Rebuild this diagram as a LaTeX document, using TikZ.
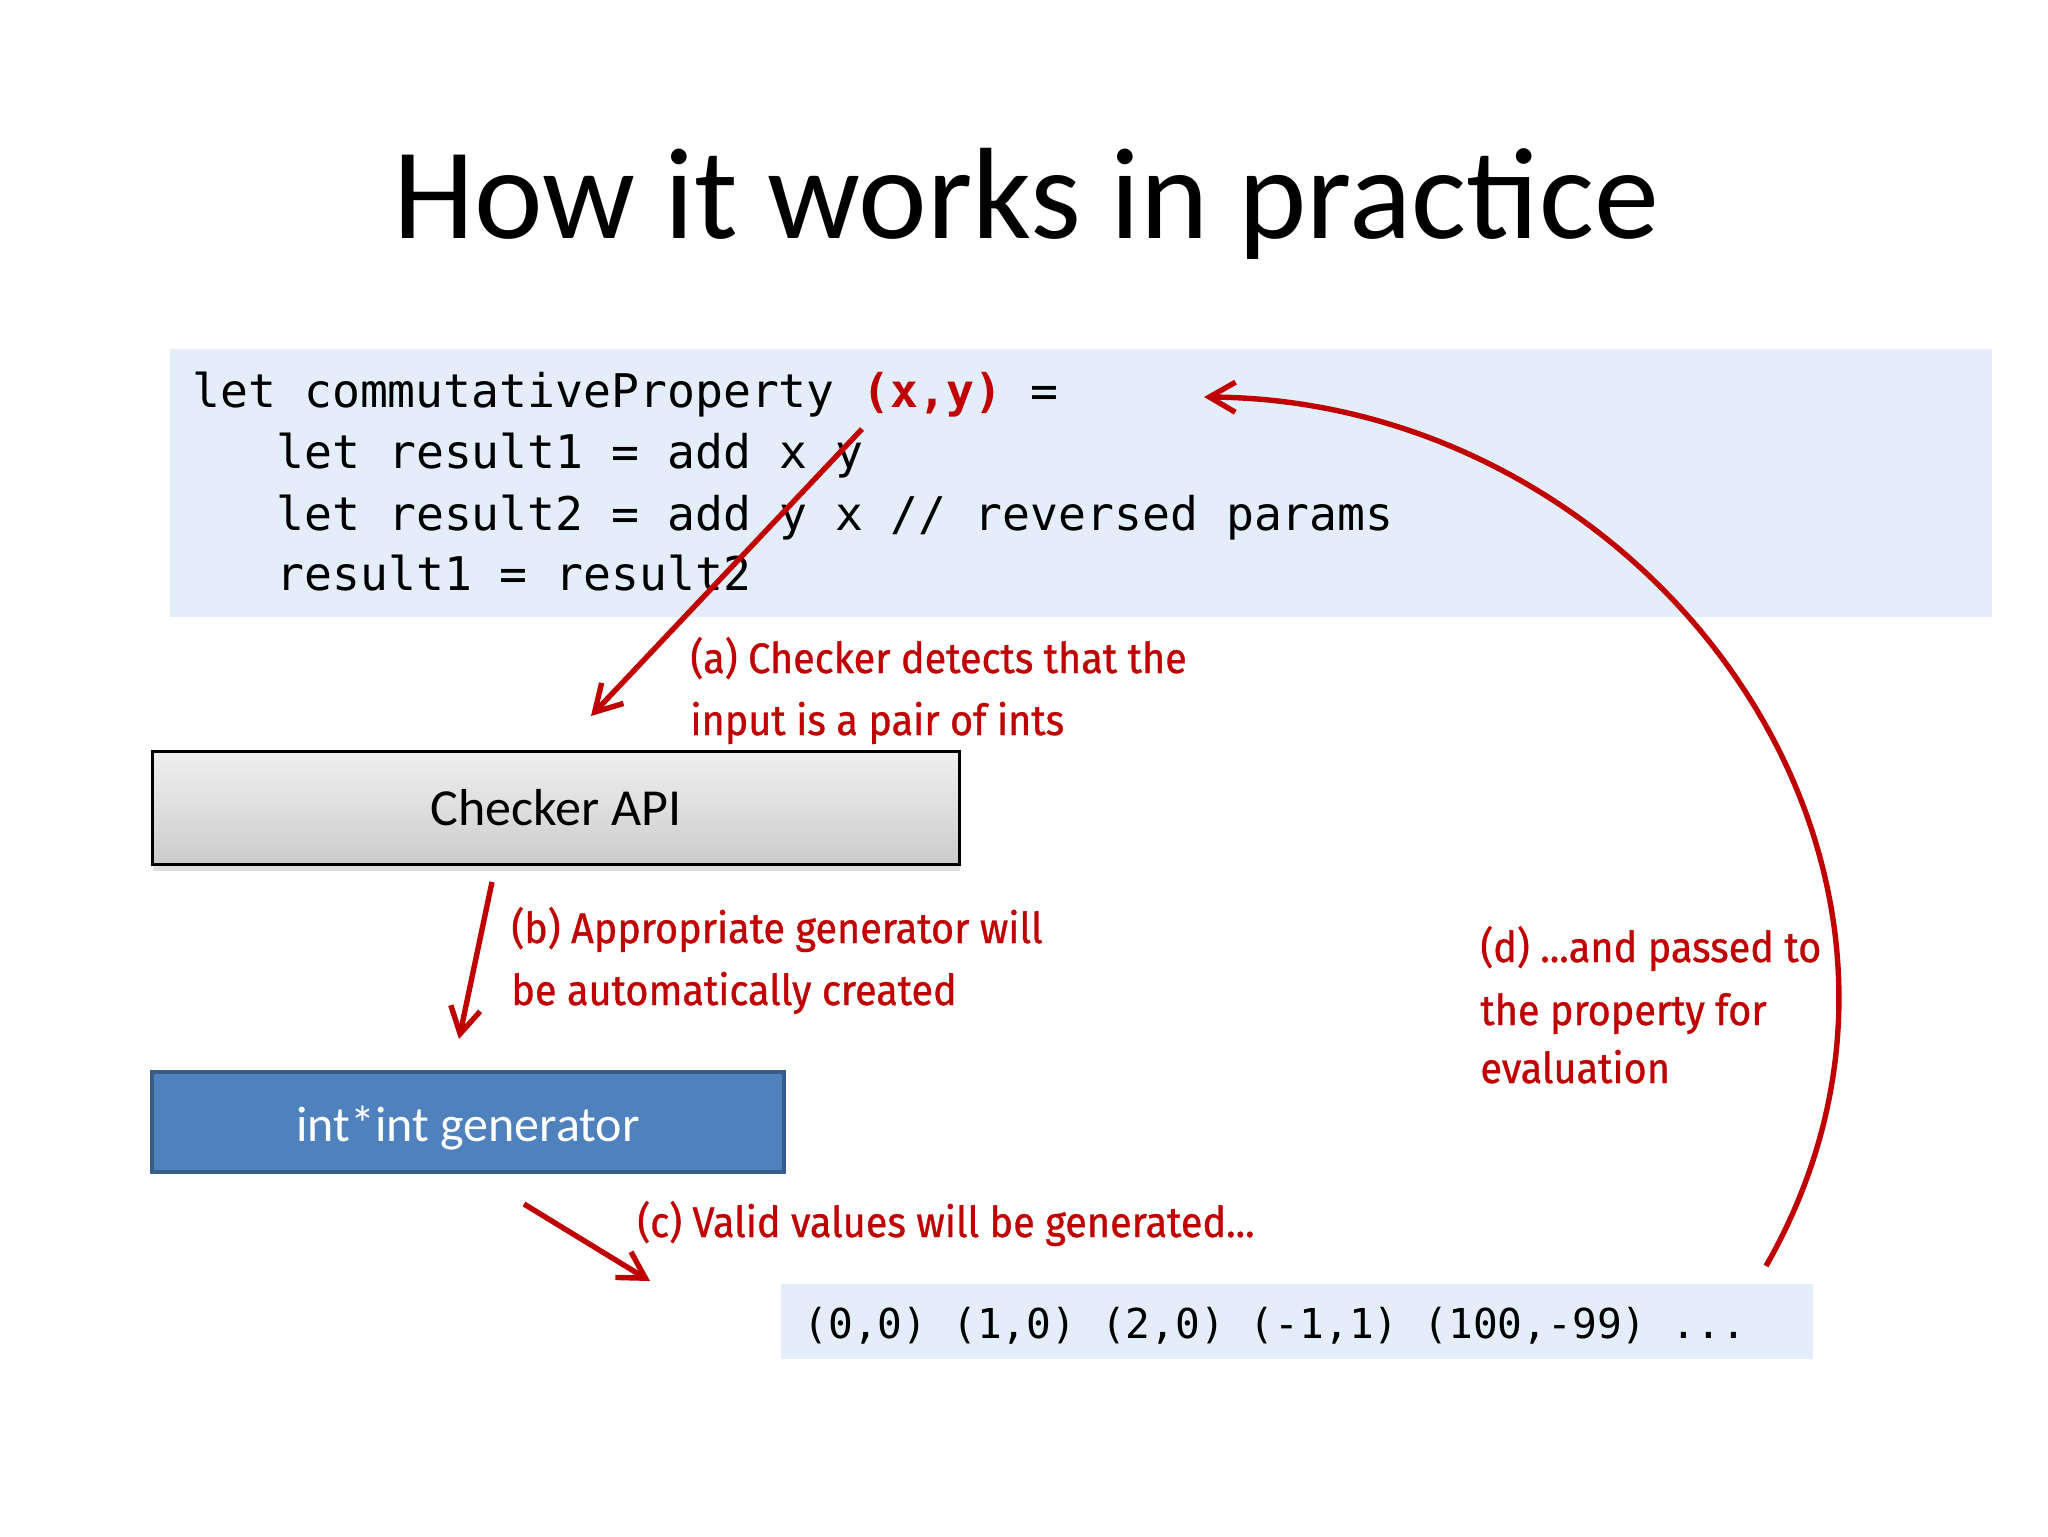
\documentclass[tikz,border=0pt]{standalone}
\usepackage{fontspec}
\setmainfont{Carlito}
\newfontfamily\codefont{DejaVu Sans Mono}
\newfontfamily\handfont[FakeStretch=0.93,FakeBold=0.8]{Fira Sans}
\usetikzlibrary{arrows.meta,shadows}
\definecolor{codebg}{RGB}{228,238,250}
\definecolor{annot}{RGB}{192,0,0}
\definecolor{genblue}{RGB}{79,129,189}
\definecolor{genborder}{RGB}{56,93,138}
\begin{document}
\begin{tikzpicture}[x=0.5pt,y=-0.5pt,
  codeline/.style={anchor=base west, inner sep=0, font=\codefont\fontsize{23.2}{28}\selectfont},
  valline/.style={anchor=base west, inner sep=0, font=\codefont\fontsize{20.6}{25}\selectfont},
  note/.style={anchor=base west, inner sep=0, text=annot, font=\handfont\fontsize{21.3}{26}\selectfont},
  redarrow/.style={draw=annot, line width=2.7pt, -{Straight Barb[length=13pt,width=15pt,line width=2.7pt]}},
  codepanel/.style={fill=codebg, inner sep=0, anchor=north west},
  checkerbox/.style={draw=black, line width=1.4pt, top color=gray!12, bottom color=gray!40, inner sep=0,
     drop shadow={shadow xshift=0pt, shadow yshift=-3pt, opacity=0.25}},
  genbox/.style={draw=genborder, line width=1.8pt, fill=genblue, inner sep=0},
  boxtext/.style={inner sep=0, anchor=base},
]
\useasboundingbox (0,0) rectangle (2048,1536);
\fill[white] (0,0) rectangle (2048,1536);

% title
\node[anchor=base, inner sep=0, font=\fontsize{65}{75}\selectfont] (title) at (1026,238) {How it works in practice};

% code panel
\node[codepanel, minimum width=911pt, minimum height=134pt] (codebox) at (170,349) {};
\node[codeline] (c1) at (192,407) {let commutativeProperty \textcolor{annot}{\bfseries(x,y)} =};
\node[codeline] (c2) at (276,468) {let result1 = add x y};
\node[codeline] (c3) at (276,530) {let result2 = add y x // reversed params};
\node[codeline] (c4) at (276,590) {result1 = result2};

% boxes
\node[checkerbox, minimum width=403.5pt, minimum height=56.5pt, font=\fontsize{26}{30}\selectfont] (checker) at (556,808) {Checker API};
\node[genbox, minimum width=316pt, minimum height=50pt] (gen) at (468,1122) {};
\node[boxtext, text=white, font=\fontsize{25}{30}\selectfont] (genlabel) at (468,1141) {int*int generator};

% values panel
\node[codepanel, minimum width=516pt, minimum height=37.5pt] (valbox) at (781,1284) {};
\node[valline] (vals) at (803,1338) {(0,0) (1,0) (2,0) (-1,1) (100,-99) ...};

% annotations
\node[note] (a1) at (690,673) {(a) Checker detects that the};
\node[note] (a2) at (690,735) {input is a pair of ints};
\node[note] (b1) at (511,943) {(b) Appropriate generator will};
\node[note] (b2) at (511,1005) {be automatically created};
\node[note] (cc) at (637,1237) {(c) Valid values will be generated...};
\node[note] (d1) at (1480,962) {(d) ...and passed to};
\node[note] (d2) at (1480,1025) {the property for};
\node[note] (d3) at (1480,1083) {evaluation};

% arrow end points
\coordinate (aS) at (862,429);
\coordinate (aE) at (591,716);
\coordinate (bS) at (492,882);
\coordinate (bE) at (459,1039);
\coordinate (cS) at (524,1204);
\coordinate (cE) at (650,1281);
\coordinate (dS) at (1766,1266);
\coordinate (dE) at (1204,397);

\draw[redarrow] (aS) -- (aE);
\draw[redarrow] (bS) -- (bE);
\draw[redarrow] (cS) -- (cE);
\draw[redarrow] (dS) .. controls (1995,865) and (1650,400) .. (dE);
\end{tikzpicture}
\end{document}
